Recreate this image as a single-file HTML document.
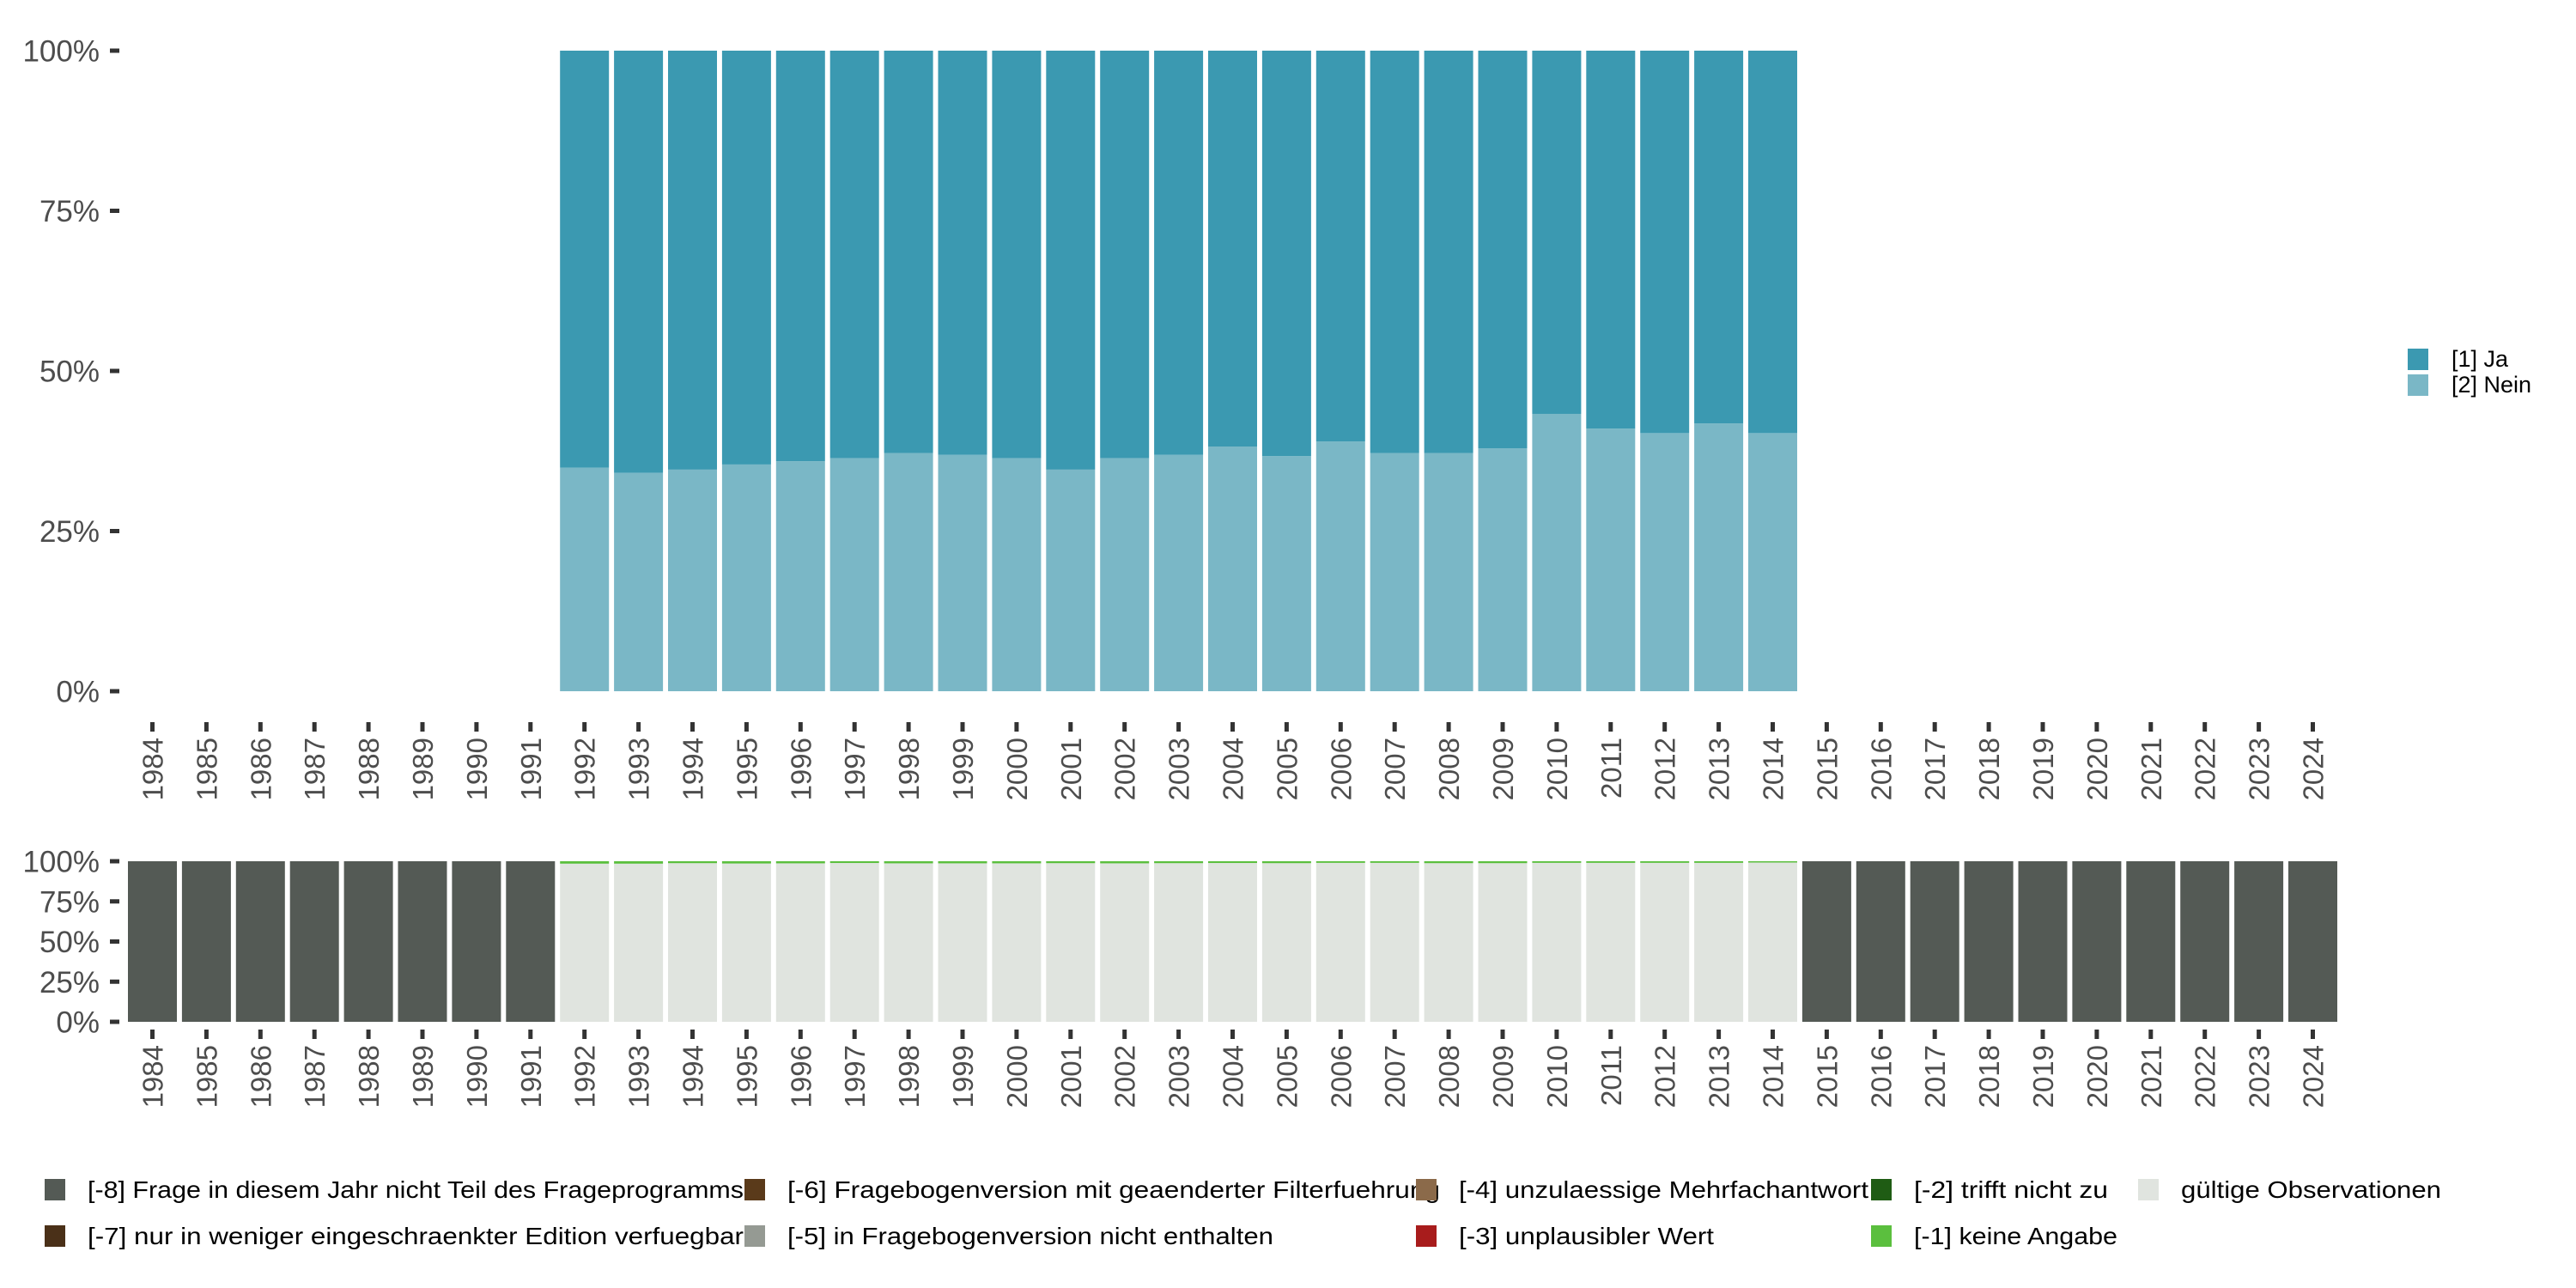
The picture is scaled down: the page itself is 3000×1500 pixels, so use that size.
<!DOCTYPE html>
<html><head><meta charset="utf-8"><style>
html,body{margin:0;padding:0;background:#fff}
svg{display:block;font-family:"Liberation Sans",sans-serif}
</style></head><body>
<svg id="chart" width="3000" height="1500" viewBox="0 0 3000 1500">
<g id="topc"></g>
<g id="botc"></g>
<g id="legc"></g>
</svg>
<script>
const years = [];
for (let y = 1984; y <= 2024; y++) years.push(String(y));
const validYears = ["1992","1993","1994","1995","1996","1997","1998","1999","2000","2001","2002","2003","2004","2005","2006","2007","2008","2009","2010","2011","2012","2013","2014"];
const neinShare = [34.9,34.1,34.6,35.4,35.9,36.4,37.2,36.9,36.4,34.6,36.4,36.9,38.2,36.7,39.0,37.2,37.2,37.9,43.3,41.0,40.3,41.8,40.3];
const keineAngabe = [1.5,1.5,1.2,1.4,1.3,1.1,1.3,1.3,1.3,1.2,1.3,1.2,1.1,1.2,1.0,1.0,1.2,1.2,1.0,1.0,1.0,1.0,0.8];
const yTicks = [0,25,50,75,100];
const yTickLabels = ["0%","25%","50%","75%","100%"];

const NS = "http://www.w3.org/2000/svg";
function mk(tag, attrs, parent) {
  const e = document.createElementNS(NS, tag);
  for (const k in attrs) e.setAttribute(k, attrs[k]);
  parent.appendChild(e);
  return e;
}
const step = 62.9, x0 = 177.5, bw = 57;
function xc(cat) { return x0 + years.indexOf(cat) * step; }
function yTop(v) { return 805 - v / 100 * 746; }
function yBot(v) { return 1190 - v / 100 * 187; }

const gTop = document.getElementById('topc');
const gBot = document.getElementById('botc');
const gLeg = document.getElementById('legc');

function axes(g, yf, ticksY, labSize) {
  yTicks.forEach((t, i) => {
    const tk = mk('rect', {x: 128, y: yf(t) - 2.5, width: 11, height: 5, fill: '#333'}, g);
    
    
    const lb = mk('text', {x: 116, y: yf(t) + labSize * 0.36, 'font-size': labSize, fill: '#4d4d4d', 'text-anchor': 'end'}, g);
    lb.textContent = yTickLabels[i];
    
    
  });
  years.forEach(yr => {
    const x = xc(yr);
    const tk = mk('rect', {x: x - 2.5, y: ticksY, width: 5, height: 11, fill: '#333'}, g);
    
    
    const lb = mk('text', {transform: `translate(${x + 12},${ticksY + 18}) rotate(-90)`, 'font-size': 33, fill: '#4d4d4d', 'text-anchor': 'end'}, g);
    lb.textContent = yr;
    
    
  });
}
axes(gTop, yTop, 841, 35);
axes(gBot, yBot, 1199, 35);

validYears.forEach((yr, i) => {
  const x = xc(yr) - bw / 2;
  const n = mk('rect', {x: x, y: yTop(neinShare[i]), width: bw, height: yTop(0) - yTop(neinShare[i]), fill: '#7ab7c6'}, gTop);
  
  
  const j = mk('rect', {x: x, y: yTop(100), width: bw, height: yTop(neinShare[i]) - yTop(100), fill: '#3b99b1'}, gTop);
  
  
});

years.forEach(yr => {
  const x = xc(yr) - bw / 2;
  const i = validYears.indexOf(yr);
  if (i < 0) {
    const r = mk('rect', {x: x, y: yBot(100), width: bw, height: yBot(0) - yBot(100), fill: '#545a55'}, gBot);
    
    
  } else {
    const v = 100 - keineAngabe[i];
    const r = mk('rect', {x: x, y: yBot(v), width: bw, height: yBot(0) - yBot(v), fill: '#e0e4df'}, gBot);
    
    
    const g = mk('rect', {x: x, y: yBot(100), width: bw, height: yBot(v) - yBot(100), fill: '#5bbf3e'}, gBot);
    
    
  }
});

[['[1] Ja', '#3b99b1', 406], ['[2] Nein', '#7ab7c6', 436]].forEach(([t, c, y]) => {
  const k = mk('rect', {x: 2804, y: y, width: 24, height: 25, fill: c}, gLeg);
  
  
  const l = mk('text', {x: 2855, y: y + 21, 'font-size': 27, fill: '#000'}, gLeg);
  l.textContent = t;
  
  
});

const legItems = [
  ['[-8] Frage in diesem Jahr nicht Teil des Frageprogramms', '#545a55', 52, 1373, 764],
  ['[-7] nur in weniger eingeschraenkter Edition verfuegbar', '#4a3018', 52, 1427, 764],
  ['[-6] Fragebogenversion mit geaenderter Filterfuehrung', '#5a3a1a', 867, 1373, 760],
  ['[-5] in Fragebogenversion nicht enthalten', '#959a93', 867, 1427, 566],
  ['[-4] unzulaessige Mehrfachantwort', '#8b6a4a', 1649, 1373, 477],
  ['[-3] unplausibler Wert', '#a81c1c', 1649, 1427, 297],
  ['[-2] trifft nicht zu', '#1f5c14', 2179, 1373, 226],
  ['[-1] keine Angabe', '#5bbf3e', 2179, 1427, 237],
  ['gültige Observationen', '#e0e4df', 2490, 1373, 303]
];
legItems.forEach(([t, c, x, y, w]) => {
  const k = mk('rect', {x: x, y: y, width: 24, height: 25, fill: c}, gLeg);
  
  
  const l = mk('text', {x: x + 50, y: y + 22, 'font-size': 28, fill: '#000', textLength: w, lengthAdjust: 'spacingAndGlyphs'}, gLeg);
  l.textContent = t;
  
  
});
</script>
</body></html>
